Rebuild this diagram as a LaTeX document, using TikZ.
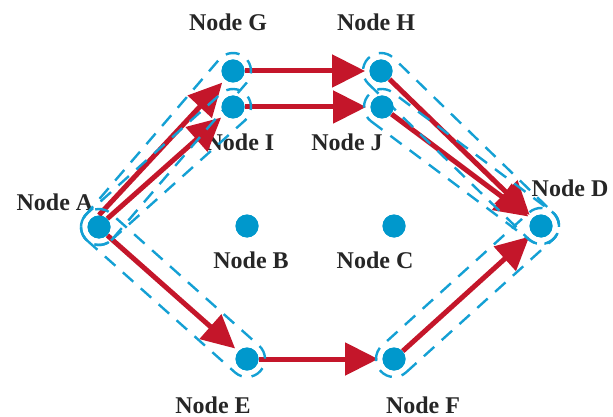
\documentclass[tikz,border=0pt]{standalone}
\usepackage{fontspec}
\setmainfont{Liberation Serif}
\usetikzlibrary{arrows.meta,calc}
\definecolor{dotblue}{RGB}{0,152,204}
\definecolor{envblue}{RGB}{20,160,212}
\definecolor{arrred}{RGB}{196,22,42}
\newcommand{\capr}{9pt}
\newcommand{\envcapsule}[2]{%
  \draw[env] let \p1=($(#2.center)-(#1.center)$), \n1={atan2(\y1,\x1)} in
    ($(#1.center)!\capr!-90:(#2.center)$) -- ($(#2.center)!\capr!90:(#1.center)$)
    arc[start angle=\n1-90, delta angle=180, radius=\capr]
    -- ($(#1.center)!\capr!90:(#2.center)$)
    arc[start angle=\n1+90, delta angle=180, radius=\capr] -- cycle;}
\tikzset{
  dot/.style={circle, fill=dotblue, draw=none, inner sep=0pt, minimum size=11.5pt},
  lbl/.style={font=\bfseries\fontsize{12pt}{14pt}\selectfont, text=black!85, inner sep=0pt},
  arr/.style={draw=arrred, line width=2.5pt, shorten >=2pt,
    -{Triangle[length=16.5pt,width=16pt]}, fill=arrred},
  env/.style={draw=envblue, line width=1.2pt, dash pattern=on 7pt off 5pt}
}
\begin{document}
\begin{tikzpicture}[x=0.5pt,y=-0.5pt]
\useasboundingbox (0,0) rectangle (613,416);
% dots
\node[dot] (A) at (99,227) {};
\node[dot] (B) at (247,226) {};
\node[dot] (C) at (394,226) {};
\node[dot] (D) at (541,226) {};
\node[dot] (G) at (233,71) {};
\node[dot] (I) at (233,107) {};
\node[dot] (H) at (381,71) {};
\node[dot] (J) at (382,107) {};
\node[dot] (E) at (247,359) {};
\node[dot] (F) at (394,359) {};
% labels
\node[lbl] (lG) at (228,22) {Node G};
\node[lbl] (lH) at (376,22) {Node H};
\node[lbl] (lI) at (240,142) {Node I};
\node[lbl] (lJ) at (347,142) {Node J};
\node[lbl] (lD) at (570,188) {Node D};
\node[lbl] (lA) at (55,202) {Node A};
\node[lbl] (lB) at (251,260) {Node B};
\node[lbl] (lC) at (375,260) {Node C};
\node[lbl] (lE) at (213,405) {Node E};
\node[lbl] (lF) at (423,405) {Node F};
% arrows
\draw[arr] (A.north) -- (G);
\draw[arr] (A.45) -- (I);
\draw[arr] (G) -- (H);
\draw[arr] (I) -- (J);
\draw[arr] (H) -- (D);
\draw[arr] (J) -- (D);
\draw[arr] (A.-45) -- (E);
\draw[arr] (E) -- (F);
\draw[arr] (F) -- (D);
% dashed envelopes
\envcapsule{A}{G}
\envcapsule{A}{I}
\envcapsule{H}{D}
\envcapsule{J}{D}
\envcapsule{A}{E}
\envcapsule{F}{D}
% dots on top
\foreach \n in {A,B,C,D,E,F,G,H,I,J}
  \fill[dotblue] (\n.center) circle[radius=5.75pt];
\end{tikzpicture}
\end{document}
